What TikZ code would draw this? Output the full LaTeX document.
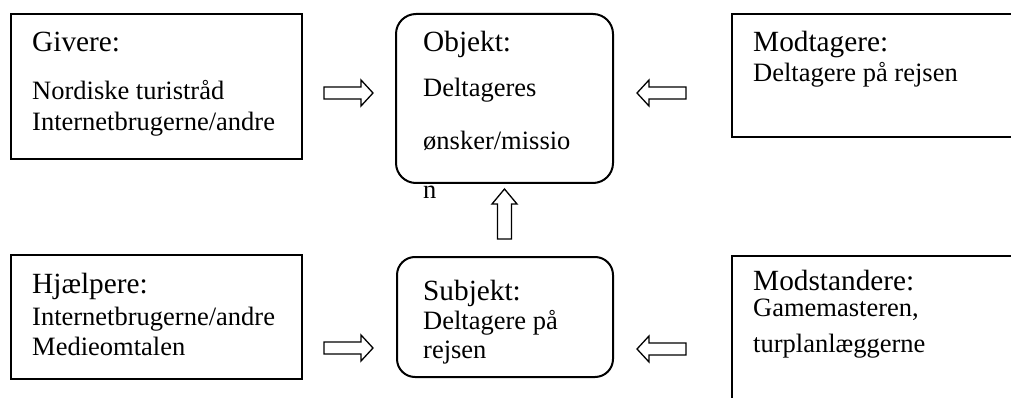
\documentclass[tikz,border=0pt]{standalone}
\usepackage{fontspec}
\setmainfont{Liberation Serif}
\begin{document}
\begin{tikzpicture}[x=1pt,y=-1pt,
  box/.style={draw,line width=2pt,inner sep=0pt},
  rbox/.style={box,rounded corners=20pt},
  head/.style={anchor=base west,inner sep=0pt,font=\fontsize{29.3}{35}\selectfont},
  body/.style={anchor=base west,inner sep=0pt,font=\fontsize{26.5}{31}\selectfont},
  blockarrow/.style={draw,line width=1.3pt,fill=white,line join=miter}]
\useasboundingbox (0,0) rectangle (1011,398);
\clip (0,0) rectangle (1011,398);
% boxes
\node[box,minimum width=291pt,minimum height=145pt] (givere) at (156.5,86.5) {};
\node[rbox,minimum width=217pt,minimum height=169pt] (objekt) at (504.5,98.5) {};
\node[box,minimum width=288pt,minimum height=123pt] (modtagere) at (876,75.5) {};
\node[box,minimum width=291pt,minimum height=124pt] (hjaelpere) at (156.5,317) {};
\node[rbox,rounded corners=18pt,minimum width=216pt,minimum height=120pt] (subjekt) at (505,317) {};
\node[box,minimum width=288pt,minimum height=154pt] (modstandere) at (876,333) {};
% texts
\node[head] (t1) at (32,52) {Givere:};
\node[body] (t2) at (32,100) {Nordiske turistråd};
\node[body] (t3) at (32,131) {Internetbrugerne/andre};
\node[head] (t4) at (423,52) {Objekt:};
\node[body] (t5) at (423,97) {Deltageres};
\node[body] (t6) at (423,150) {ønsker/missio};
\node[body] (t7) at (423,198) {n};
\node[head] (t8) at (753,52) {Modtagere:};
\node[body] (t9) at (753,82) {Deltagere på rejsen};
\node[head] (t10) at (32,293) {Hjælpere:};
\node[body] (t11) at (32,325) {Internetbrugerne/andre};
\node[body] (t12) at (32,355) {Medieomtalen};
\node[head] (t13) at (423,300) {Subjekt:};
\node[body] (t14) at (423,329) {Deltagere på};
\node[body] (t15) at (423,358) {rejsen};
\node[head] (t16) at (753,290) {Modstandere:};
\node[body] (t17) at (753,316) {Gamemasteren,};
\node[body] (t18) at (753,352) {turplanlæggerne};
% block arrows
\coordinate (a1) at (324,93);
\coordinate (a2) at (637,93);
\coordinate (a3) at (324,348);
\coordinate (a4) at (637,349);
\coordinate (a5) at (504.5,189);
\draw[blockarrow] (a1) ++(0,-6) -- ++(37,0) -- ++(0,-7) -- ++(12,13) -- ++(-12,13) -- ++(0,-7) -- ++(-37,0) -- cycle;
\draw[blockarrow] (a2) -- ++(12,-13) -- ++(0,7) -- ++(37,0) -- ++(0,12) -- ++(-37,0) -- ++(0,7) -- cycle;
\draw[blockarrow] (a3) ++(0,-6) -- ++(37,0) -- ++(0,-7) -- ++(12,13) -- ++(-12,13) -- ++(0,-7) -- ++(-37,0) -- cycle;
\draw[blockarrow] (a4) -- ++(12,-13) -- ++(0,7) -- ++(37,0) -- ++(0,12) -- ++(-37,0) -- ++(0,7) -- cycle;
\draw[blockarrow] (a5) -- ++(12.5,15) -- ++(-5.5,0) -- ++(0,35) -- ++(-14,0) -- ++(0,-35) -- ++(-5.5,0) -- cycle;
\end{tikzpicture}
\end{document}
